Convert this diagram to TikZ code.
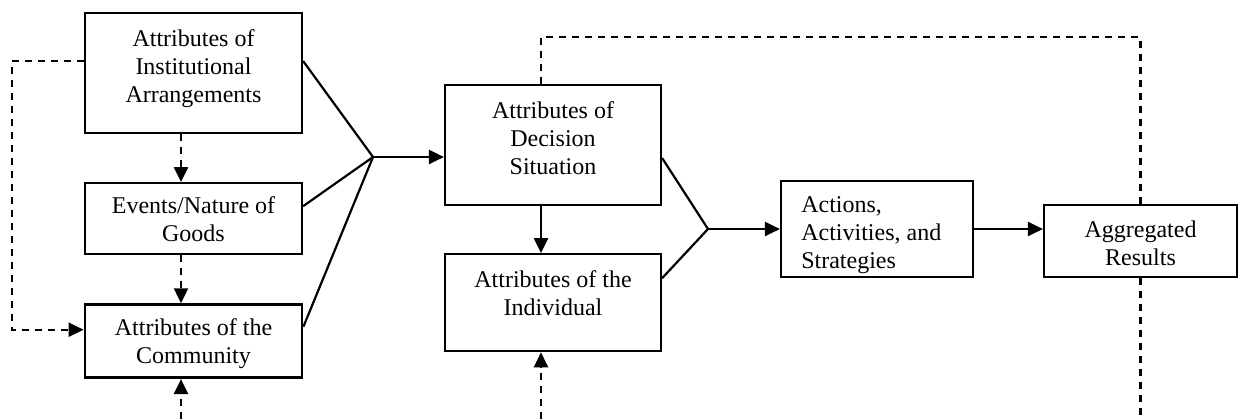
\documentclass[tikz,border=0pt]{standalone}
\usepackage{fontspec}
\setmainfont{Liberation Serif}
\usetikzlibrary{positioning,arrows.meta,calc}

\begin{document}
\begin{tikzpicture}[
    x=0.5pt, y=-0.5pt,
    box/.style={draw, line width=1.1pt, inner sep=0pt, minimum width=108.5pt},
    txt/.style={align=center, inner sep=0pt, font=\fontsize{12pt}{14pt}\selectfont},
    link/.style={line width=1.1pt},
    arrow/.style={-{Triangle[length=7.5pt,width=7pt]}, line width=1.1pt},
    dashline/.style={line width=1.1pt, dash pattern=on 3.5pt off 3pt},
    dasharrow/.style={dashline, -{Triangle[length=7.5pt,width=7pt]}}
]
\useasboundingbox (0,0) rectangle (1241,419);

\node[box, minimum height=60pt, label={[txt, yshift=2.25pt]center:Attributes of\\Institutional\\Arrangements}] (inst) at (193.5,73) {};
\node[box, minimum height=35.5pt, below=24pt of inst, label={[txt, yshift=-0.25pt]center:Events/Nature of\\Goods}] (goods) {};
\node[box, line width=1.4pt, minimum height=36.5pt, below=24pt of goods, label={[txt, yshift=-1.25pt]center:Attributes of the\\Community}] (comm) {};
\node[box, minimum width=108pt, minimum height=60pt, label={[txt, yshift=3.5pt]center:Attributes of\\Decision\\Situation}] (dec) at (553,145) {};
\node[box, minimum width=108pt, minimum height=48.5pt, below=23.5pt of dec, label={[txt, yshift=5pt]center:Attributes of the\\Individual}] (indiv) {};
\node[box, minimum width=96pt, minimum height=48pt, label={[txt, align=left, anchor=west, xshift=10.5pt, yshift=-3pt]west:Actions,\\Activities, and\\Strategies}] (act) at (877,229) {};
\node[box, minimum width=96.5pt, minimum height=36pt, label={[txt, yshift=-1pt]center:Aggregated\\Results}] (res) at (1140.5,241) {};

\coordinate (jA) at (373,157);
\coordinate (jB) at (708,229);
\coordinate (topC) at (541,37);
\coordinate (botA) at (181,419);
\coordinate (botB) at (541,419);
\coordinate (botC) at (1141,419);

\draw[link] ([yshift=6pt]inst.east) -- (jA);
\draw[link] ([yshift=6.25pt]goods.east) -- (jA);
\draw[link] ([yshift=7.25pt]comm.east) -- (jA);
\draw[arrow] (jA) -- (jA -| dec.west);
\draw[link] ([yshift=-6.5pt]dec.east) -- (jB);
\draw[link] ([yshift=12.25pt]indiv.east) -- (jB);
\draw[arrow] (jB) -- (jB -| act.west);
\draw[arrow] (act.east) -- (act.east -| res.west);
\draw[arrow] ([xshift=-6pt]dec.south) -- ([xshift=-6pt]indiv.north);

\draw[dasharrow] ([xshift=-6.25pt]inst.south) -- ([xshift=-6.25pt]goods.north);
\draw[dasharrow] ([xshift=-6.25pt]goods.south) -- ([xshift=-6.25pt]comm.north);
\draw[dasharrow] ([yshift=6pt]inst.west) -- ++(-72,0) |- ([yshift=5.75pt]comm.west);
\draw[dasharrow] (botA) -- (botA |- comm.south);
\draw[dasharrow] (botB) -- (botB |- indiv.south);
\draw[dashline] (res.north) |- (topC) -- (topC |- dec.north);
\draw[dashline] (res.south) -- (res.south |- botC);
\end{tikzpicture}
\end{document}
